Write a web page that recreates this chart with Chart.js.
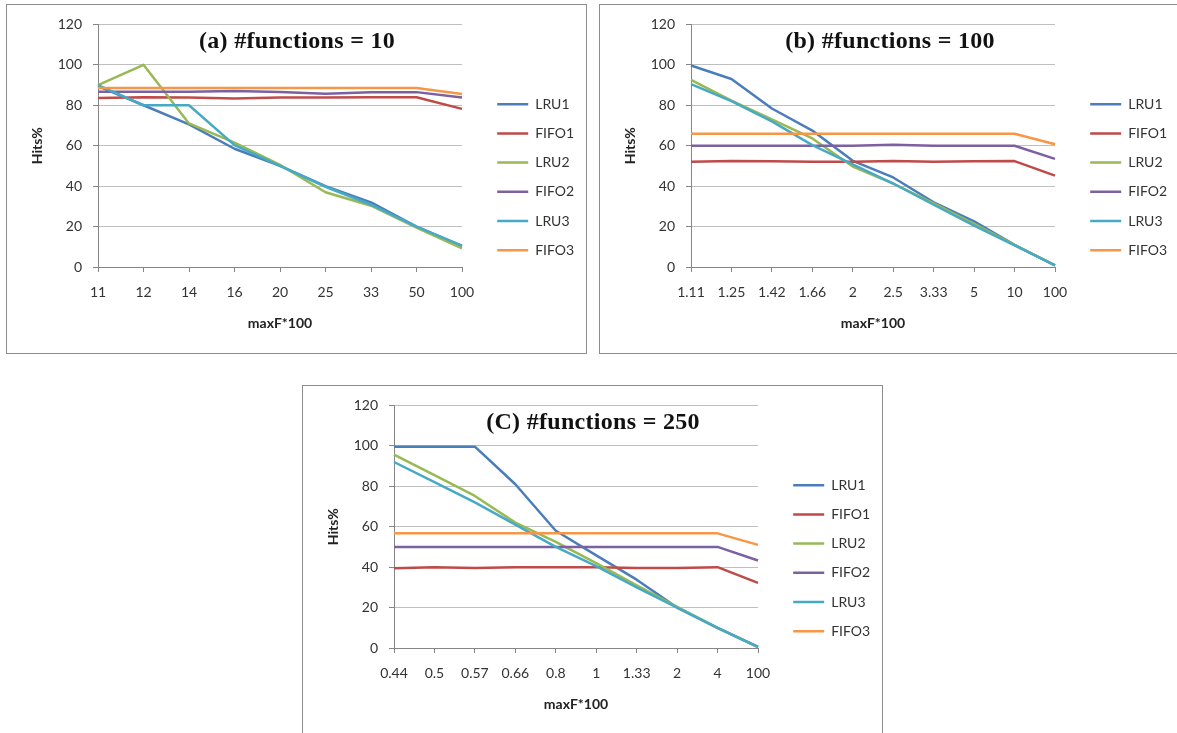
<!DOCTYPE html>
<html>
<head>
<meta charset="utf-8">
<script src="https://cdn.jsdelivr.net/npm/chart.js@4.4.1/dist/chart.umd.min.js"></script>
<style>
body{margin:0;background:#fff;width:1177px;height:733px;overflow:hidden;position:relative}
.box{position:absolute;width:579px;height:348px;border:1px solid #8c8c8c;background:#fff}
.box canvas{position:absolute;left:0;top:0}
.ttl{position:absolute;left:290px;top:35px;transform:translate(-50%,-50%);white-space:nowrap;
  font:bold 24px "Liberation Serif",serif;letter-spacing:0.3px;color:#111}
</style>
</head>
<body>
<div class="box" style="left:6px;top:4px"><canvas id="cA" width="579" height="348"></canvas><div class="ttl">(a) #functions = 10</div></div>
<div class="box" style="left:599px;top:4px"><canvas id="cB" width="579" height="348"></canvas><div class="ttl">(b) #functions = 100</div></div>
<div class="box" style="left:302px;top:385px"><canvas id="cC" width="579" height="348"></canvas><div class="ttl">(C) #functions = 250</div></div>
<script>
// x categories (maxF*100)
const catsA = ['11','12','14','16','20','25','33','50','100'];
const catsB = ['1.11','1.25','1.42','1.66','2','2.5','3.33','5','10','100'];
const catsC = ['0.44','0.5','0.57','0.66','0.8','1','1.33','2','4','100'];

const yTicks = [0, 20, 40, 60, 80, 100, 120];
const seriesNames = ['LRU1','FIFO1','LRU2','FIFO2','LRU3','FIFO3'];

// (a) #functions = 10
const lru1A  = [89.5, 80, 70.5, 58.5, 50, 40, 32, 20, 10.3];
const fifo1A = [83.6, 84, 83.8, 83.4, 83.8, 83.8, 84, 84, 78.2];
const lru2A  = [90, 100, 71, 61.5, 50.5, 37, 30.3, 19.5, 9.2];
const fifo2A = [86.7, 86.7, 86.7, 87, 86.6, 85.7, 86.5, 86.5, 83.8];
const lru3A  = [90, 80, 80, 60.3, 50, 39.7, 30.8, 20, 10.6];
const fifo3A = [88.5, 88.5, 88.5, 88.5, 88.5, 88.5, 88.5, 88.5, 85.6];

// (b) #functions = 100
const lru1B  = [99.7, 93, 78.4, 67.5, 52.5, 44.3, 32, 22.6, 11, 0.8];
const fifo1B = [52, 52.4, 52.3, 52, 52, 52.4, 52, 52.3, 52.4, 45.2];
const lru2B  = [92.6, 82.3, 73, 63.6, 49.7, 41.3, 31.5, 21.3, 11, 0.8];
const fifo2B = [60, 60, 60, 60, 60, 60.5, 60, 60, 60, 53.5];
const lru3B  = [90.5, 82, 72, 60.3, 50.8, 41.3, 30.8, 20.5, 10.7, 0.8];
const fifo3B = [65.9, 65.9, 65.9, 65.9, 65.9, 65.9, 65.9, 65.9, 65.9, 60.7];

// (C) #functions = 250
const lru1C  = [99.6, 99.6, 99.6, 81, 58, 45.8, 33.8, 20, 10, 0.5];
const fifo1C = [39.5, 40, 39.6, 40, 40, 40, 39.6, 39.6, 40, 32.2];
const lru2C  = [95.7, 85.5, 75.2, 62, 52.5, 42, 31, 20.3, 10, 0.5];
const fifo2C = [50, 50, 50, 50, 50, 50, 50, 50, 50, 43.3];
const lru3C  = [92, 82, 72, 61, 50, 40.5, 30, 20, 10, 0.5];
const fifo3C = [56.7, 56.7, 56.7, 56.7, 56.7, 56.7, 56.7, 56.7, 56.7, 51];

const seriesColors = ['#4A7EBB','#BE4B48','#98B954','#7D60A0','#46AAC5','#F79646'];

Chart.defaults.font.family = 'Lato';

// legend gets a fixed width so the plot area lands where the reference has it
const fixedLegend = {
    id: 'fixedLegend',
    beforeLayout(chart) {
        const lg = chart.legend;
        if (lg && !lg._fixed) {
            const fit = lg.fit;
            lg.fit = function () { fit.call(this); this.width = 104; };
            lg._fixed = true;
        }
    }
};

function makeChart(id, cats, series) {
    const datasets = series.map((vals, i) => ({
        label: seriesNames[i],
        data: vals,
        borderColor: seriesColors[i],
        backgroundColor: seriesColors[i],
        borderWidth: 2.5,
        pointRadius: 0,
        tension: 0,
        borderJoinStyle: 'round',
        order: series.length - i,
        yAxisID: 'y'
    }));
    return new Chart(document.getElementById(id), {
        type: 'line',
        data: { labels: cats, datasets },
        plugins: [fixedLegend],
        options: {
            responsive: false,
            animation: false,
            layout: { padding: { left: 22, top: 18, right: 0, bottom: 21.6 } },
            plugins: {
                tooltip: { enabled: false },
                legend: {
                    position: 'right',
                    labels: {
                        usePointStyle: true,
                        pointStyle: 'line',
                        pointStyleWidth: 31,
                        boxHeight: 14,
                        padding: 15.2,
                        color: '#333',
                        font: { size: 14 },
                        sort: (a, b) => a.datasetIndex - b.datasetIndex
                    }
                }
            },
            scales: {
                x: {
                    type: 'category',
                    offset: false,
                    grid: { drawOnChartArea: false, drawTicks: true, tickLength: 5, tickColor: '#868686' },
                    border: { color: '#868686' },
                    ticks: { padding: 12, color: '#333', font: { size: 14 }, maxRotation: 0, autoSkip: false },
                    title: { display: true, text: 'maxF*100', color: '#222', font: { size: 14, weight: 'bold' }, padding: 0 },
                    afterFit(s) { s.height = 64.4; }
                },
                y: {
                    min: 0, max: 120,
                    afterBuildTicks(s) { s.ticks = yTicks.map(v => ({ value: v })); },
                    grid: { color: '#BFBFBF', tickLength: 5, tickColor: '#868686' },
                    border: { color: '#868686' },
                    ticks: { padding: 11, color: '#333', font: { size: 14 } },
                    title: { display: true, text: 'Hits%', color: '#222', font: { size: 14, weight: 'bold' }, padding: 0 },
                    afterFit(s) { s.width = 69; }
                },
                gap: {
                    type: 'linear',
                    position: 'right',
                    display: true,
                    grid: { display: false },
                    border: { display: false },
                    ticks: { display: false },
                    afterFit(s) { s.width = 20; }
                }
            }
        }
    });
}

makeChart('cA', catsA, [lru1A, fifo1A, lru2A, fifo2A, lru3A, fifo3A]);
makeChart('cB', catsB, [lru1B, fifo1B, lru2B, fifo2B, lru3B, fifo3B]);
makeChart('cC', catsC, [lru1C, fifo1C, lru2C, fifo2C, lru3C, fifo3C]);
</script>
</body>
</html>
